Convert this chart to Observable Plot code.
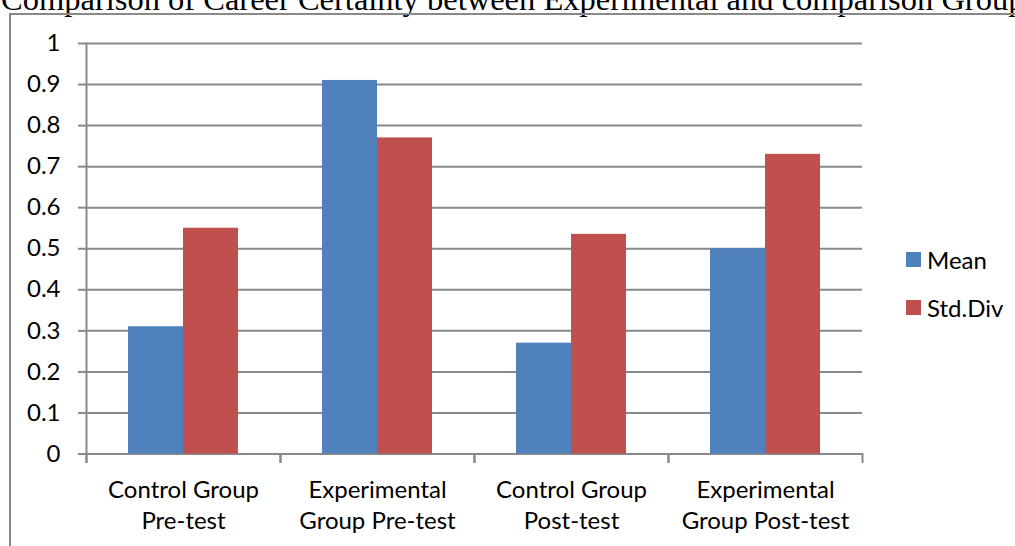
<!DOCTYPE html>
<html>
<head>
<meta charset="utf-8">
<script src="https://cdn.jsdelivr.net/npm/d3@7"></script>
<script src="https://cdn.jsdelivr.net/npm/@observablehq/plot@0.6"></script>
<style>
html, body { margin: 0; padding: 0; background: #fff; overflow: hidden; width: 1015px; height: 546px; }
#title { position: absolute; left: 1px; top: -17px; font: 32.5px/32px "Liberation Serif", "Times New Roman", serif; white-space: nowrap; color: #000; }
#chart { position: absolute; left: 9px; top: 13px; border-left: 2px solid #898989; border-top: 2px solid #898989; width: 1006px; height: 533px; }
#chart svg { display: block; }
#legend { position: absolute; left: 906px; top: 252px; font-family: Lato, sans-serif; font-size: 24px; color: #000; }
.row { position: absolute; left: 0; display: flex; align-items: center; height: 15px; white-space: nowrap; }
.sw { width: 15px; height: 15px; margin-right: 6px; flex: none; }
</style>
</head>
<body>
<div id="title">Comparison of Career Certainty between Experimental and comparison Groups</div>
<div id="chart"></div>
<div id="legend"></div>
<script>
const categories = ["Control Group\nPre-test", "Experimental\nGroup Pre-test", "Control Group\nPost-test", "Experimental\nGroup Post-test"];
const series = ["Mean", "Std.Div"];
const meanValues = [0.31, 0.91, 0.27, 0.50];
const stdValues = [0.55, 0.77, 0.535, 0.73];
const colors = ["#4F81BD", "#C0504D"];
const yTicks = [0, 0.1, 0.2, 0.3, 0.4, 0.5, 0.6, 0.7, 0.8, 0.9, 1];

const data = categories.flatMap((c, i) => [
  {category: c, series: series[0], value: meanValues[i]},
  {category: c, series: series[1], value: stdValues[i]}
]);

const axisColor = "#898989";
const chart = Plot.plot({
  width: 1004,
  height: 531,
  marginLeft: 75,
  marginRight: 153,
  marginTop: 28,
  marginBottom: 92.5,
  style: {fontFamily: "Lato, sans-serif", fontSize: "24px", color: "#000", background: "transparent", overflow: "visible"},
  fx: {domain: categories, padding: 0, label: null},
  x: {domain: series, paddingInner: 0, paddingOuter: 0.74, axis: null},
  y: {domain: [0, 1], label: null},
  color: {domain: series, range: colors},
  marks: [
    Plot.gridY(yTicks, {stroke: axisColor, strokeOpacity: 1, strokeWidth: 2}),
    Plot.axisY(yTicks, {tickSize: 8, tickPadding: 18, tickFormat: d => `${d}`, stroke: axisColor, strokeOpacity: 1, strokeWidth: 2, label: null, fontSize: 24}),
    Plot.barY(data, {fx: "category", x: "series", y: "value", fill: "series"}),
    Plot.axisFx({anchor: "bottom", tickSize: 0, tickPadding: 22, label: null, lineHeight: 1.29, fontSize: 24}),
    Plot.frame({anchor: "left", insetTop: 410.5, insetBottom: -8, stroke: axisColor, strokeWidth: 2}),
    Plot.frame({anchor: "right", insetTop: 410.5, insetBottom: -8, stroke: axisColor, strokeWidth: 2}),
    Plot.frame({anchor: "left", facetAnchor: "left", insetBottom: -8, stroke: axisColor, strokeWidth: 2})
  ]
});
document.getElementById("chart").appendChild(chart);

const legend = document.getElementById("legend");
series.forEach((s, i) => {
  const row = document.createElement("div");
  row.className = "row";
  row.style.top = (i * 48) + "px";
  const sw = document.createElement("div");
  sw.className = "sw";
  sw.style.background = colors[i];
  const t = document.createElement("span");
  t.textContent = s;
  row.appendChild(sw);
  row.appendChild(t);
  legend.appendChild(row);
});
</script>
</body>
</html>
